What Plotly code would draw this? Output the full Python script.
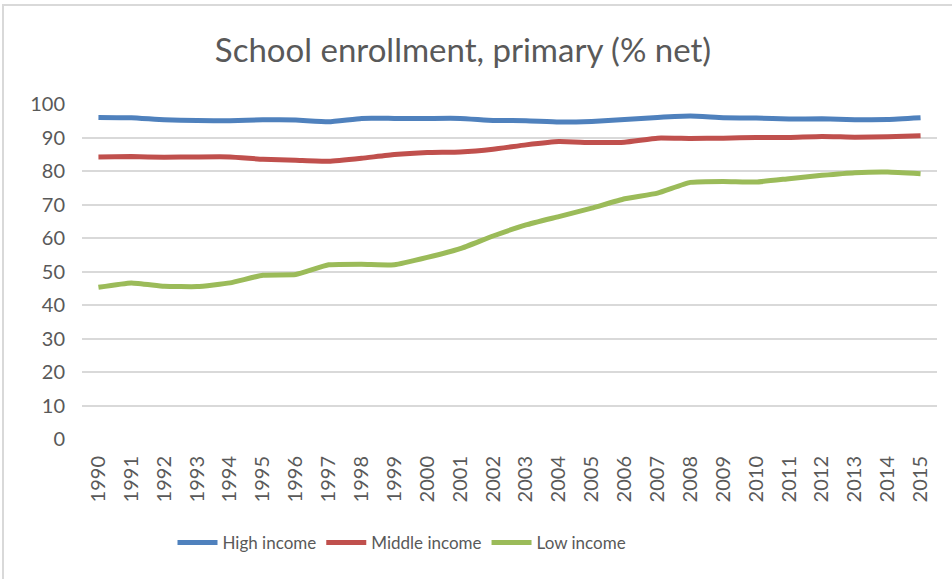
import plotly.graph_objects as go

years = [str(y) for y in range(1990, 2016)]

high_income = [96.0, 95.9, 95.3, 95.1, 95.0, 95.3, 95.2, 94.7, 95.7, 95.7, 95.7, 95.7, 95.1,
               95.0, 94.6, 94.8, 95.4, 96.0, 96.4, 95.9, 95.8, 95.5, 95.6, 95.3, 95.4, 95.9]
middle_income = [84.2, 84.3, 84.1, 84.2, 84.2, 83.5, 83.2, 82.9, 83.8, 84.9, 85.5, 85.7, 86.5,
                 87.8, 88.8, 88.5, 88.6, 89.8, 89.7, 89.8, 90.0, 90.0, 90.3, 90.1, 90.2, 90.5]
low_income = [45.3, 46.6, 45.6, 45.5, 46.6, 48.9, 49.1, 52.0, 52.2, 52.0, 54.2, 56.8, 60.6,
              63.9, 66.4, 68.9, 71.7, 73.4, 76.6, 76.9, 76.7, 77.7, 78.7, 79.5, 79.7, 79.2]

series = [
    ("High income", high_income, "#4F81BD"),
    ("Middle income", middle_income, "#C0504D"),
    ("Low income", low_income, "#9BBB59"),
]

W, H = 952, 579
L, R, T, B = 82, 15, 104, 140
pw, ph = W - L - R, H - T - B

fig = go.Figure()
for name, vals, color in series:
    fig.add_trace(
        go.Scatter(
            x=years,
            y=vals,
            name=name,
            mode="lines",
            line=dict(color=color, width=5, shape="spline", smoothing=0.4),
        )
    )

grey = "#595959"
fig.update_layout(
    width=W,
    height=H,
    margin=dict(l=L, r=R, t=T, b=B),
    paper_bgcolor="white",
    plot_bgcolor="white",
    font=dict(family="Lato, Open Sans, sans-serif", color=grey, size=20),
    title=dict(
        text="School enrollment, primary (% net)",
        xref="container",
        x=463 / W,
        xanchor="center",
        yref="container",
        y=1 - 50 / H,
        yanchor="middle",
        font=dict(size=33, color=grey),
    ),
    legend=dict(
        orientation="h",
        xref="container",
        x=402 / W,
        xanchor="center",
        yref="container",
        y=1 - 543 / H,
        yanchor="middle",
        font=dict(size=17, color=grey),
        itemwidth=40,
    ),
    showlegend=True,
)
fig.update_xaxes(
    type="category",
    range=[-0.5, 25.5],
    tickangle=-90,
    showgrid=False,
    showline=False,
    ticks="",
    tickfont=dict(size=20, color=grey),
    ticklabelstandoff=12,
)
fig.update_yaxes(
    range=[0, 100],
    dtick=10,
    showgrid=True,
    gridcolor="#d9d9d9",
    gridwidth=1.5,
    zeroline=False,
    ticks="",
    tickfont=dict(size=20, color=grey),
    ticklabelstandoff=16,
)

# chart-area border, running off the right and bottom edge like the cropped original
fig.add_shape(
    type="rect",
    xref="paper",
    yref="paper",
    x0=(3 - L) / pw,
    x1=(W + 10 - L) / pw,
    y0=(H - B - (H + 10)) / ph,
    y1=(H - B - 5) / ph,
    line=dict(color="#d9d9d9", width=2),
    layer="below",
)

fig.write_html(
    "out.html",
    config={"displayModeBar": False},
    post_script="document.body.style.margin='0';",
)
